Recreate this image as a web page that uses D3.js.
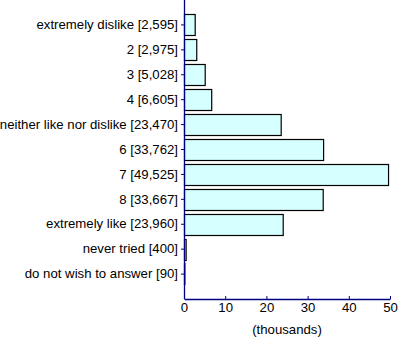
<!DOCTYPE html>
<html><head><meta charset="utf-8">
<script src="https://cdn.jsdelivr.net/npm/d3@7"></script>
<style>body{margin:0;background:#fff}svg{display:block}text{font-family:"Liberation Sans",Arial,sans-serif;font-size:13.2px;fill:#000}</style>
</head><body>
<script>
const categories = ["extremely dislike [2,595]","2 [2,975]","3 [5,028]","4 [6,605]","neither like nor dislike [23,470]","6 [33,762]","7 [49,525]","8 [33,667]","extremely like [23,960]","never tried [400]","do not wish to answer [90]"];
const values = [2.595, 2.975, 5.028, 6.605, 23.470, 33.762, 49.525, 33.667, 23.960, 0.400, 0.090];
const xTicks = [0, 10, 20, 30, 40, 50];
const xTitle = "(thousands)";

(function () {
const W = 400, H = 342;
const mLeft = 184, mRight = 390, mTop = 0, mBottom = 299;
const fs = "13.2px";
const svg = d3.select("body").append("svg").attr("width", W).attr("height", H);

const x = d3.scaleLinear().domain([0, 50]).range([mLeft, mRight]);
const y = d3.scaleBand().domain(categories).range([mTop, mBottom]).paddingInner(0.15).paddingOuter(0.575);

svg.append("g").selectAll("rect").data(values).join("rect")
  .attr("x", x(0) + 0.5)
  .attr("y", (d, i) => Math.round(y(categories[i])) + 0.5)
  .attr("width", d => x(d) - x(0))
  .attr("height", Math.round(y.bandwidth()))
  .attr("fill", "#d6ffff").attr("stroke", "#000").attr("stroke-width", 1.2);

const ya = svg.append("g").attr("transform", `translate(${mLeft},0)`)
  .call(d3.axisLeft(y).tickSize(3).tickPadding(3).tickSizeOuter(0));
ya.select(".domain").attr("stroke", "#000080").attr("stroke-width", 1.3).attr("d", `M0.5,${mTop}V${mBottom}`);
ya.selectAll(".tick line").attr("stroke", "#000080");
ya.selectAll("text").style("font-size", fs).attr("fill", "#000");

const xa = svg.append("g").attr("transform", `translate(0,${mBottom})`)
  .call(d3.axisBottom(x).tickValues(xTicks).tickSize(-3).tickPadding(4).tickSizeOuter(0));
xa.select(".domain").attr("stroke", "#000080").attr("stroke-width", 1.3);
xa.selectAll(".tick line").attr("stroke", "#000080");
xa.selectAll("text").style("font-size", fs).attr("fill", "#000");

svg.append("text").attr("x", 287).attr("y", 334).attr("text-anchor", "middle").style("font-size", fs).text(xTitle);
})();
</script>
</body></html>
